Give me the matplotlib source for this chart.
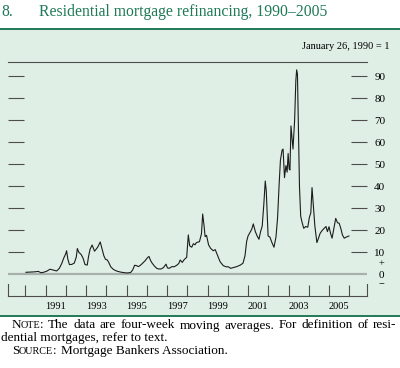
import matplotlib
matplotlib.use("Agg")
import matplotlib.pyplot as plt
from matplotlib.patches import Rectangle
from matplotlib.lines import Line2D

# Refinancing index, four-week moving average (January 26, 1990 = 1)
years = [
    1990.03, 1990.25, 1990.45, 1990.64, 1990.78, 1990.90, 1991.06, 1991.22,
    1991.38, 1991.55, 1991.68, 1991.80, 1991.90, 1992.00, 1992.04, 1992.10,
    1992.18, 1992.30, 1992.42, 1992.52, 1992.57, 1992.65, 1992.75, 1992.85,
    1992.95, 1993.06, 1993.12, 1993.20, 1993.30, 1993.36, 1993.42, 1993.50,
    1993.58, 1993.70, 1993.78, 1993.88, 1993.96, 1994.05, 1994.12, 1994.22,
    1994.35, 1994.50, 1994.70, 1994.90, 1995.05, 1995.20, 1995.30, 1995.40,
    1995.50, 1995.58, 1995.66, 1995.78, 1995.91, 1996.05, 1996.11, 1996.18,
    1996.26, 1996.38, 1996.49, 1996.60, 1996.70, 1996.82, 1996.95, 1997.02,
    1997.10, 1997.25, 1997.35, 1997.48, 1997.58, 1997.65, 1997.75, 1997.85,
    1997.97, 1998.05, 1998.12, 1998.22, 1998.30, 1998.38, 1998.45, 1998.60,
    1998.70, 1998.76, 1998.83, 1998.88, 1998.95, 1999.05, 1999.15, 1999.28,
    1999.38, 1999.48, 1999.62, 1999.78, 1999.92, 2000.03, 2000.14, 2000.30,
    2000.45, 2000.62, 2000.75, 2000.85, 2000.93, 2001.00, 2001.09, 2001.18,
    2001.26, 2001.36, 2001.45, 2001.54, 2001.62, 2001.70, 2001.78, 2001.85,
    2001.90, 2001.95, 2001.99, 2002.08, 2002.18, 2002.28, 2002.38, 2002.46,
    2002.53, 2002.60, 2002.68, 2002.73, 2002.80, 2002.87, 2002.93, 2002.98,
    2003.03, 2003.07, 2003.12, 2003.17, 2003.22, 2003.30, 2003.36, 2003.40,
    2003.44, 2003.49, 2003.54, 2003.60, 2003.66, 2003.75, 2003.85, 2003.95,
    2004.03, 2004.10, 2004.16, 2004.22, 2004.30, 2004.40, 2004.48, 2004.56,
    2004.66, 2004.76, 2004.85, 2004.92, 2005.00, 2005.08, 2005.15, 2005.26,
    2005.33, 2005.42, 2005.50, 2005.58, 2005.66, 2005.75, 2005.85, 2005.98,
]
refi_index = [
    1.0, 1.1, 1.2, 1.4, 0.8, 1.0, 1.5, 2.4,
    2.0, 1.6, 2.8, 5.0, 7.5, 9.5, 10.8, 7.0,
    4.5, 4.6, 5.2, 8.0, 11.8, 10.0, 9.2, 7.5,
    4.5, 4.3, 8.0, 11.5, 13.4, 12.0, 10.6, 11.5,
    12.5, 14.8, 12.0, 8.5, 6.9, 6.6, 5.5, 3.5,
    2.3, 1.6, 1.1, 0.8, 0.7, 0.9, 2.0, 4.2,
    4.0, 3.6, 4.0, 5.0, 6.2, 7.8, 8.2, 6.5,
    5.2, 3.8, 2.8, 2.5, 2.5, 3.1, 4.7, 3.0,
    2.8, 3.6, 3.5, 4.2, 5.0, 6.6, 5.5, 6.8,
    7.8, 18.0, 13.0, 12.4, 14.0, 13.5, 14.5, 14.9,
    18.5, 27.5, 22.0, 17.2, 17.8, 13.5, 11.9, 10.8,
    11.3, 9.0, 5.8, 4.0, 3.5, 3.5, 2.8, 3.2,
    3.6, 4.3, 5.1, 8.5, 15.0, 17.5, 19.0, 20.5,
    23.0, 19.5, 17.5, 16.0, 19.5, 22.0, 32.0, 42.5,
    38.0, 27.0, 17.5, 17.0, 14.5, 12.4, 17.0, 26.0,
    40.0, 52.0, 56.5, 57.0, 44.0, 49.5, 46.5, 55.0,
    48.0, 47.5, 67.5, 62.0, 57.0, 70.0, 88.0, 93.0,
    91.0, 65.0, 40.0, 26.5, 24.0, 21.0, 21.8, 21.5,
    26.0, 28.0, 39.5, 32.0, 22.0, 14.5, 16.5, 18.7,
    20.0, 21.0, 21.8, 19.5, 21.7, 18.5, 16.5, 22.0,
    25.5, 23.5, 23.3, 21.0, 18.0, 16.5, 17.0, 17.5,
]

year_ticks = list(range(1990, 2007))
label_years = [1991, 1993, 1995, 1997, 1999, 2001, 2003, 2005]
y_ticks = [10, 20, 30, 40, 50, 60, 70, 80, 90]

title_num = "8."
title_text = "Residential mortgage refinancing, 1990\u20132005"
unit_text = "January 26, 1990 = 1"

GREEN = "#1f7a58"
PANEL = "#e0efe6"
GRAY = "#4d4d4d"

plt.rcParams['font.family'] = ['Liberation Serif', 'DejaVu Serif']

W, H = 400, 368
fig = plt.figure(figsize=(W / 100, H / 100), dpi=100)


def fy(py):
    return 1 - py / H


# green panel behind the chart
fig.patches.append(Rectangle((0, fy(316)), 1, fy(29) - fy(316),
                             transform=fig.transFigure, facecolor=PANEL,
                             edgecolor='none', zorder=-5))
for py in (29.3, 316):
    fig.lines.append(Line2D([0, 1], [fy(py), fy(py)], transform=fig.transFigure,
                            color=GREEN, lw=1.4, zorder=-4))

# axes placed in pixels
x_left, x_right, y_top, y_bot = 8, 366.5, 61.7, 296
ax = fig.add_axes([x_left / W, fy(y_bot), (x_right - x_left) / W, (y_bot - y_top) / H])
ax.set_facecolor('none')
ax.set_zorder(2)

ax.plot(years, refi_index, color='#1c1c1c', lw=0.8, zorder=3)
ax.axhline(0, color='#a8b0ab', lw=1.6, zorder=2)

ax.set_xlim(1989.146, 2006.85)
ax.set_ylim(-9.77, 96.7)

for side in ('left', 'right'):
    ax.spines[side].set_bounds(-9.77, -4.3)
    ax.spines[side].set_color(GRAY)
    ax.spines[side].set_linewidth(0.8)
for side in ('top', 'bottom'):
    ax.spines[side].set_color(GRAY)
    ax.spines[side].set_linewidth(0.8)

ax.set_xticks(year_ticks)
ax.set_xticklabels([])
ax.set_xticks([y + 0.5 for y in label_years], minor=True)
ax.set_xticklabels([str(y) for y in label_years], minor=True, fontsize=7.5)
ax.tick_params(axis='x', which='major', direction='in', length=8, width=0.8, color=GRAY)
ax.tick_params(axis='x', which='minor', length=0, pad=4)

ax.set_yticks(y_ticks)
ax.set_yticklabels([str(v) for v in y_ticks], fontsize=8)
ax.tick_params(axis='y', direction='in', length=11.5, width=0.8, color=GRAY,
               left=True, right=True, labelleft=False, labelright=True, pad=5.5)

# zero label with plus/minus marks on the right
for val, s, size in ((5.5, "+", 7.5), (0, "0", 8), (-4.2, "\u2212", 7.5)):
    ax.annotate(s, xy=(1, val), xycoords=('axes fraction', 'data'),
                xytext=(15, 0), textcoords='offset pixels', ha='center',
                va='center_baseline', fontsize=size, annotation_clip=False)

# titles
fig.text(1 / W, fy(15.5), title_num, color=GREEN, fontsize=11.3, va='baseline')
fig.text(39 / W, fy(15.5), title_text, color=GREEN, fontsize=11.3, va='baseline')
fig.text(389 / W, fy(49), unit_text, fontsize=7.5, ha='right', va='baseline')

# footnotes with small caps, first line justified
renderer = fig.canvas.get_renderer()


def word_width(parts):
    w = 0
    for s, size in parts:
        t = fig.text(0, 0, s, fontsize=size)
        w += t.get_window_extent(renderer).width - 0.5
        t.remove()
    return w


def draw_words(parts, x, py):
    for s, size in parts:
        t = fig.text(x / W, fy(py), s, fontsize=size, va='baseline', ha='left')
        x += t.get_window_extent(renderer).width - 0.5
    return x


FS = 9.5
SC = 7.3
line1 = [[("N", FS), ("OTE", SC), (":", FS)]] + [[(w, FS)] for w in
         "The data are four-week moving averages. For definition of resi-".split()]
widths = [word_width(p) for p in line1]
gap = (396 - 12 - sum(widths)) / (len(line1) - 1)
x = 12
for p, w in zip(line1, widths):
    draw_words(p, x, 328.5)
    x += w + gap

fig.text(1 / W, fy(341), "dential mortgages, refer to text.", fontsize=FS, va='baseline')
x = draw_words([("S", FS), ("OURCE", SC), (":", FS)], 12, 354)
fig.text((x + 5) / W, fy(354), "Mortgage Bankers Association.", fontsize=FS, va='baseline')

fig.savefig("out.png", dpi=100)
